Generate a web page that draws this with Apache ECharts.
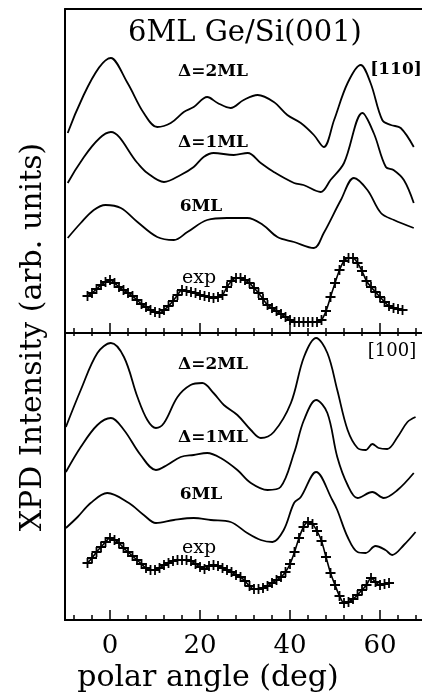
<!DOCTYPE html>
<html>
<head>
<meta charset="UTF-8">
<title>XPD 6ML Ge/Si(001)</title>
<script src="https://cdn.jsdelivr.net/npm/echarts@6.0.0/dist/echarts.min.js"></script>
<style>
  html, body { margin: 0; padding: 0; background: #fff; }
  #chart { width: 422px; height: 692px; }
</style>
</head>
<body>
<div id="chart"></div>
<script>
// [110] panel, intensity in arb. units (curves are offset)
var top2ML = [[-9.4,200],[0.2,275],[3.9,250],[7.5,220],[10.5,206],[13.5,210],[16.4,221],[18.6,226],[21.6,236],[23.9,230],[26.8,225],[29.7,233],[32.8,238],[36.4,231],[39.4,218],[42.4,210],[45.3,198],[47.5,186],[49.8,213],[52.8,250],[55.7,268],[57.9,250],[60.5,213],[62.4,208],[64.6,205],[67.5,186]];
var top1ML = [[-9.4,150],[0.2,201],[6.1,170],[8.3,160],[12,151],[15.7,158],[18.6,166],[20.8,176],[23,180],[27.5,178],[30.6,180],[33.5,170],[36.4,161],[40.9,150],[43,148],[46.8,141],[49,153],[52,170],[56.1,220],[58.6,200],[61.3,166],[63,163],[65.3,153],[67.5,130]];
var top6ML = [[-9.4,95],[-6.5,110],[-3.6,123],[-1,128],[2.4,125],[6.1,111],[10.5,96],[14.2,93],[17.2,101],[21.6,113],[26,115],[30.5,115],[34,108],[37.2,96],[40.9,91],[45.3,85],[47.5,100],[51.3,133],[54.2,155],[57.2,143],[60.2,120],[63.1,113],[67.5,105]];
var topExp = [[-5,37],[-4,40],[-3,44],[-2,48],[-1,51],[0,53],[1,50],[2,46],[3,43],[4,40],[5,37],[6,33],[7,29],[8,26],[9,23],[10,21],[11,20],[12,23],[13,27],[14,32],[15,38],[16,43],[17,42],[18,41],[19,40],[20,38],[21,37],[22,36],[23,35],[24,36],[25,38],[26,46],[27,52],[28,55],[29,55],[30,53],[31,50],[32,45],[33,40],[34,34],[35,28],[36,25],[37,22],[38,19],[39,16],[40,13],[41,11],[42,11],[43,11],[44,11],[45,11],[46,11],[47,13],[48,22],[49,36],[50,50],[51,63],[52,72],[53,75],[54,75],[55,70],[56,62],[57,52],[58,46],[59,41],[60,36],[61,31],[62,27],[63,25],[64,24],[65,23]];

// [100] panel
var bot2ML = [[-9.8,193],[-6.5,230],[-2.8,267],[0.2,277],[3.1,263],[6.1,223],[8.3,200],[10.2,192],[12,197],[15,223],[17.9,235],[20.5,237],[23,227],[25.3,215],[28.3,205],[31.3,190],[33.5,182],[36.4,188],[40.2,217],[43.1,263],[45.8,282],[48.3,267],[50.5,230],[52.8,190],[55,172],[56.8,170],[58.3,176],[59.7,172],[61.6,171],[63.9,183],[66.1,198],[67.9,203]];
var bot1ML = [[-9.8,148],[-6.5,173],[-2.8,195],[0.2,202],[3.1,190],[6.8,165],[10.2,150],[12.7,155],[15.7,163],[18.6,165],[21.6,167],[24.6,162],[28.3,150],[31.3,137],[35,130],[37.9,133],[40.9,167],[43.1,200],[45.8,220],[48.3,207],[50.5,163],[52.8,135],[55,122],[58.3,128],[60.8,122],[63.9,130],[67.5,147]];
var bot6ML = [[-9.8,92],[-7.2,103],[-4.3,117],[-0.6,127],[4.2,117],[7.5,105],[10.2,97],[14.2,100],[18.6,102],[22.4,100],[26.8,98],[30.5,87],[33.5,80],[36.1,78],[38.6,90],[40.9,117],[42.4,123],[45.8,148],[49.4,120],[50.5,110],[52.8,83],[55,68],[56.8,67],[59,74],[61.2,70],[62.7,65],[65.3,75],[67.9,88]];
var botExp = [[-5,57],[-4,62],[-3,68],[-2,73],[-1,78],[0,82],[1,80],[2,77],[3,72],[4,68],[5,64],[6,60],[7,56],[8,52],[9,50],[10,50],[11,52],[12,55],[13,57],[14,59],[15,60],[16,60],[17,60],[18,59],[19,56],[20,53],[21,51],[22,54],[23,55],[24,54],[25,52],[26,50],[27,48],[28,45],[29,43],[30,39],[31,34],[32,31],[33,31],[34,32],[35,34],[36,37],[37,40],[38,43],[39,48],[40,56],[41,68],[42,82],[43,93],[44,98],[45,96],[46,89],[47,79],[48,63],[49,47],[50,35],[51,24],[52,17],[53,18],[54,21],[55,25],[56,30],[57,35],[58,42],[59,38],[60,35],[61,36],[62,37]];

var majorTicks = [0, 20, 40, 60];
var minorTicks = [-8, -4, 4, 8, 12, 16, 24, 28, 32, 36, 44, 48, 52, 56, 64, 68];
var tickLabels = ['0', '20', '40', '60'];

var serif = '"DejaVu Serif", serif';
var xMin = -10, xMax = 69.33;
var plus = 'path://M4.1,0H5.9V4.1H10V5.9H5.9V10H4.1V5.9H0V4.1H4.1Z';

function xAx(grid, pos, ticks, len, opts) {
  var a = {
    type: 'value', gridIndex: grid, position: pos, min: xMin, max: xMax,
    axisLine: { show: true, onZero: false, lineStyle: { color: '#000', width: 2 } },
    axisTick: { show: len > 0, inside: true, length: len, customValues: ticks, lineStyle: { color: '#000', width: 1.5 } },
    axisLabel: { show: false },
    splitLine: { show: false }
  };
  if (opts) a.axisLabel = opts;
  return a;
}
function yAx(grid, max) {
  return {
    type: 'value', gridIndex: grid, min: 0, max: max,
    axisLine: { show: true, onZero: false, lineStyle: { color: '#000', width: 2 } },
    axisTick: { show: false }, axisLabel: { show: false }, splitLine: { show: false }
  };
}
function curve(data, xi, yi) {
  return { type: 'line', xAxisIndex: xi, yAxisIndex: yi, data: data, smooth: 0.35, showSymbol: false,
    lineStyle: { color: '#000', width: 1.8 }, silent: true };
}
function expCurve(data, xi, yi) {
  return { type: 'line', xAxisIndex: xi, yAxisIndex: yi, data: data, smooth: 0.3,
    symbol: plus, symbolSize: 10, showAllSymbol: true,
    itemStyle: { color: '#000' }, lineStyle: { color: '#000', width: 1.6 }, silent: true };
}
function label(text, x, y, size, weight) {
  return { type: 'text', x: x, y: y, style: { text: text, font: (weight || 'normal') + ' ' + size + 'px ' + serif,
    fill: '#000', align: 'center', verticalAlign: 'middle' } };
}

var myChart = echarts.init(document.getElementById('chart'));
var option = {
  animation: false,
  backgroundColor: '#fff',
  grid: [
    { left: 65, top: 9, width: 357, height: 324 },
    { left: 65, top: 333, width: 357, height: 287 }
  ],
  xAxis: [
    xAx(0, 'bottom', majorTicks, 10),
    xAx(0, 'bottom', minorTicks, 5),
    xAx(0, 'top', [], 0),
    xAx(1, 'bottom', majorTicks, 10, { show: true, customValues: majorTicks, formatter: function (v) { return tickLabels[majorTicks.indexOf(v)]; },
      color: '#000', fontFamily: serif, fontSize: 26, margin: 13 }),
    xAx(1, 'bottom', minorTicks, 5),
    xAx(1, 'top', majorTicks.concat(minorTicks), 3)
  ],
  yAxis: [yAx(0, 324), yAx(1, 287)],
  series: [
    curve(top2ML, 0, 0), curve(top1ML, 0, 0), curve(top6ML, 0, 0), expCurve(topExp, 0, 0),
    curve(bot2ML, 3, 1), curve(bot1ML, 3, 1), curve(bot6ML, 3, 1), expCurve(botExp, 3, 1)
  ],
  graphic: [
    label('6ML Ge/Si(001)', 245, 33, 29),
    label('[110]', 396, 70, 17, 'bold'),
    label('\u0394=2ML', 213, 72, 17, 'bold'),
    label('\u0394=1ML', 213, 143, 17, 'bold'),
    label('6ML', 201, 207, 17, 'bold'),
    label('exp', 199, 278, 19),
    label('[100]', 392, 351, 18),
    label('\u0394=2ML', 213, 365, 17, 'bold'),
    label('\u0394=1ML', 213, 438, 17, 'bold'),
    label('6ML', 201, 495, 17, 'bold'),
    label('exp', 199, 548, 19),
    label('polar angle (deg)', 208, 678, 30),
    { type: 'text', x: 33, y: 337, rotation: Math.PI / 2,
      style: { text: 'XPD Intensity (arb. units)', font: 'normal 30px ' + serif, fill: '#000', align: 'center', verticalAlign: 'middle' } }
  ]
};
myChart.setOption(option);
</script>
</body>
</html>
